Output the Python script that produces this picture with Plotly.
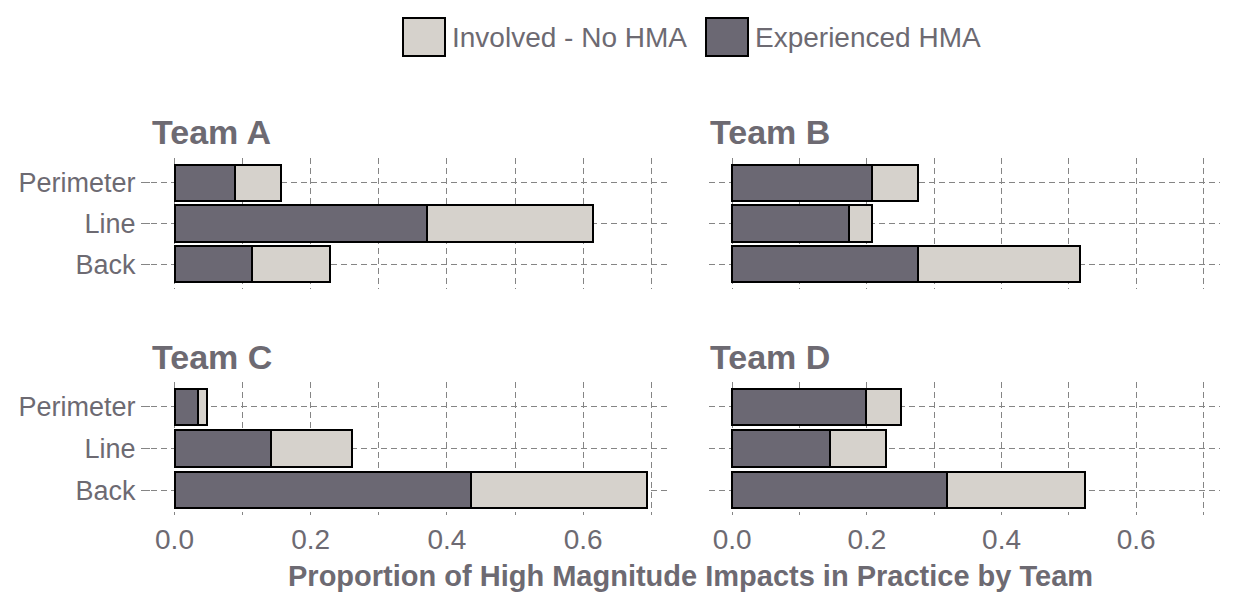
import plotly.graph_objects as go

# positions (bottom -> top) and teams
positions = ["Back", "Line", "Perimeter"]
teams = ["Team A", "Team B", "Team C", "Team D"]

# proportion that experienced a high magnitude impact (dark segment)
hma_a = [0.114, 0.370, 0.089]
hma_b = [0.276, 0.173, 0.207]
hma_c = [0.435, 0.141, 0.034]
hma_d = [0.319, 0.145, 0.198]

# proportion involved without HMA (light segment, stacked on top)
no_hma_a = [0.115, 0.245, 0.068]
no_hma_b = [0.241, 0.035, 0.069]
no_hma_c = [0.259, 0.119, 0.014]
no_hma_d = [0.205, 0.084, 0.052]

x_ticks = [0.0, 0.2, 0.4, 0.6]
x_tick_labels = ["0.0", "0.2", "0.4", "0.6"]

DARK = "#6b6873"
LIGHT = "#d6d2cc"
TXT = "#6d6a72"
GRID = "#858585"
DASH = "6px,4px"
FONT = "Liberation Sans, Arial, sans-serif"

# page body has an 8px margin, figure starts 8px in
OFF = 8
W, H = 1233 - OFF, 593 - OFF


def px(x):
    return (x - OFF) / W


def py(y):
    return 1 - (y - OFF) / H


hma = [hma_a, hma_b, hma_c, hma_d]
no_hma = [no_hma_a, no_hma_b, no_hma_c, no_hma_d]

# panel boxes in window pixels: (left, right, top, bottom, title centre y)
panels = [(151, 668, 158, 289, 132), (709, 1220, 158, 289, 132),
          (151, 668, 382, 515, 357), (709, 1220, 382, 515, 357)]

fig = go.Figure()
for i in range(4):
    ax = "" if i == 0 else str(i + 1)
    fig.add_trace(go.Bar(
        x=hma[i], y=positions, orientation="h", name="Experienced HMA",
        marker=dict(color=DARK, line=dict(color="black", width=2)),
        width=0.88, xaxis="x" + ax, yaxis="y" + ax, showlegend=False,
    ))
    fig.add_trace(go.Bar(
        x=no_hma[i], y=positions, orientation="h", name="Involved - No HMA",
        marker=dict(color=LIGHT, line=dict(color="black", width=2)),
        width=0.88, xaxis="x" + ax, yaxis="y" + ax, showlegend=False,
    ))

annotations = []
layout = {}
for i, (l, r, t, b, ty) in enumerate(panels):
    ax = "" if i == 0 else str(i + 1)
    bottom_row = i >= 2
    left_col = i % 2 == 0
    layout["xaxis" + ax] = dict(
        domain=[px(l), px(r)], anchor="y" + ax,
        range=[-0.0345, 0.7245], showline=False, zeroline=False,
        tickvals=x_ticks, ticktext=x_tick_labels, showticklabels=bottom_row,
        showgrid=True, gridcolor=GRID, griddash=DASH, gridwidth=1,
        minor=dict(dtick=0.1, tick0=0, showgrid=True, gridcolor=GRID,
                   griddash=DASH, gridwidth=1),
        ticks="", ticklabelstandoff=5,
        tickfont=dict(family=FONT, size=28, color=TXT),
    )
    layout["yaxis" + ax] = dict(
        domain=[py(b), py(t)], anchor="x" + ax,
        categoryorder="array", categoryarray=positions,
        range=[-0.6, 2.6], showline=False, zeroline=False,
        showgrid=True, gridcolor=GRID, griddash=DASH, gridwidth=1,
        showticklabels=left_col, ticks="outside" if left_col else "",
        ticklen=9, tickcolor=GRID, tickwidth=1,
        tickfont=dict(family=FONT, size=27, color=TXT),
    )
    annotations.append(dict(
        text="<b>%s</b>" % teams[i], xref="paper", yref="paper",
        x=px(l), y=py(ty), xanchor="left", yanchor="middle",
        xshift=-1, showarrow=False,
        font=dict(family=FONT, size=34, color=TXT),
    ))

# axis title shared by the bottom row
annotations.append(dict(
    text="<b>Proportion of High Magnitude Impacts in Practice by Team</b>",
    xref="paper", yref="paper", x=px(690), y=py(576),
    xanchor="center", yanchor="middle", showarrow=False,
    font=dict(family=FONT, size=29, color=TXT),
))

# legend drawn by hand so the keys get the big boxes
shapes = []
legend_items = [("Involved - No HMA", LIGHT, 403), ("Experienced HMA", DARK, 706)]
for label, col, x0 in legend_items:
    shapes.append(dict(type="rect", xref="paper", yref="paper",
                       x0=px(x0), x1=px(x0 + 42), y0=py(56), y1=py(18),
                       fillcolor=col, line=dict(color="black", width=2)))
    annotations.append(dict(
        text=label, xref="paper", yref="paper", x=px(x0 + 47), y=py(37),
        xanchor="left", yanchor="middle", showarrow=False,
        font=dict(family=FONT, size=28, color=TXT),
    ))

fig.update_layout(
    width=W, height=H, barmode="stack",
    margin=dict(l=0, r=0, t=0, b=0),
    plot_bgcolor="white", paper_bgcolor="white",
    annotations=annotations, shapes=shapes,
    **layout,
)

fig.write_html("out.html")
